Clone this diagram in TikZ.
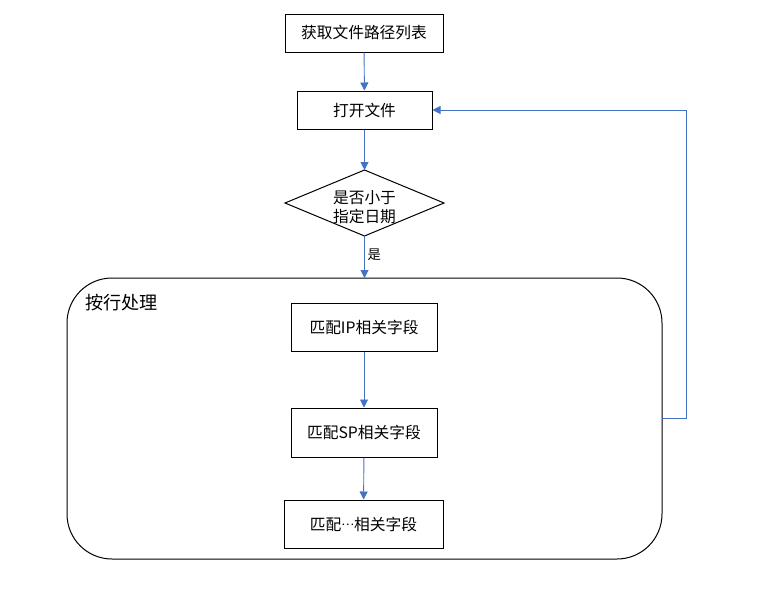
\documentclass[tikz,border=0pt]{standalone}
\usepackage{fontspec}
\setmainfont{Noto Sans CJK SC}
\usetikzlibrary{shapes.geometric,arrows.meta}
\definecolor{arrowblue}{HTML}{4472C4}
\begin{document}
\begin{tikzpicture}[x=0.75pt,y=-0.75pt,
  box/.style={draw=black,line width=0.75pt,minimum height=0.75pt*38,inner sep=0pt,font=\fontsize{11.8}{14}\selectfont},
  flow/.style={draw=arrowblue,line width=0.7pt,-{Triangle[length=6pt,width=6pt]}},
  txt/.style={inner sep=0pt}]
\useasboundingbox (0,0) rectangle (771,600);
\node[box,minimum width=0.75pt*158] (b1) at (364,33) {获取文件路径列表};
\node[box,minimum width=0.75pt*135] (b2) at (364.5,110) {打开文件};
% decision
\coordinate (dtop) at (364.5,170);
\coordinate (dbot) at (364.5,236);
\coordinate (dleft) at (285,203);
\coordinate (dright) at (444,203);
\draw[line width=0.75pt] (dtop) -- (dright) -- (dbot) -- (dleft) -- cycle;
\node[txt,font=\fontsize{11.8}{14.2}\selectfont,align=center] (d) at (364.5,207) {是否小于\\指定日期};
% container
\draw[line width=0.75pt,rounded corners=0.75pt*45] (67,278) rectangle (662,559);
\coordinate (ctop) at (364.5,278);
\coordinate (cright) at (662,418);
\node[txt,font=\fontsize{13.6}{16}\selectfont,anchor=west] (title) at (85,303) {按行处理};
\node[box,minimum width=0.75pt*146,minimum height=0.75pt*48] (ip) at (364,327) {匹配IP相关字段};
\node[box,minimum width=0.75pt*146,minimum height=0.75pt*49] (sp) at (364,432.5) {匹配SP相关字段};
\node[box,minimum width=0.75pt*159,minimum height=0.75pt*48] (etc) at (363.5,524) {匹配\raisebox{0.3em}{\fontsize{9}{10}\selectfont …}相关字段};
\draw[flow] (b1) -- (b2);
\draw[flow] (b2) -- (dtop);
\draw[flow] (dbot) -- node[txt,right=2pt,font=\fontsize{10}{11}\selectfont,pos=0.45] (yes) {是} (ctop);
\draw[flow] (ip) -- (sp);
\draw[flow] (sp) -- (etc);
\draw[flow] (cright) -- (686,418) |- (b2.east);
\end{tikzpicture}
\end{document}
